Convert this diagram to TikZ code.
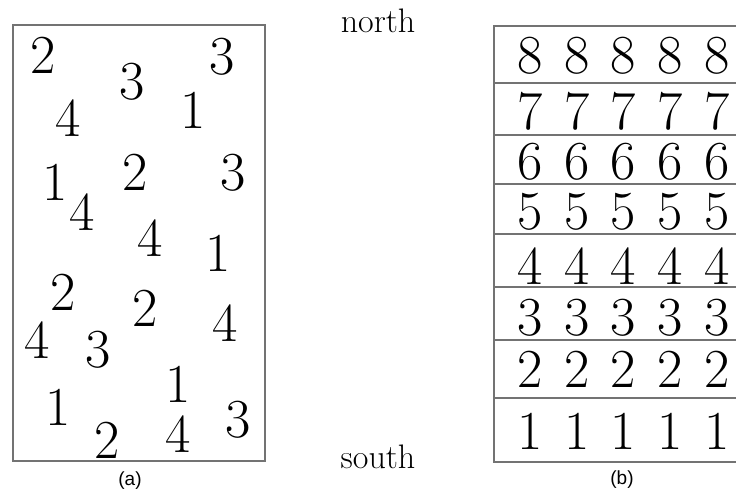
\documentclass[tikz,border=0pt]{standalone}
\usepackage{fontspec}
\newfontfamily\capfont{Liberation Sans}
\usetikzlibrary{positioning}

\tikzset{
  frame/.style={draw=black!55, line width=1.6pt},
  digit/.style={inner sep=0pt, font=\fontsize{55}{60}\selectfont},
  side/.style={inner sep=0pt, font=\fontsize{34}{38}\selectfont},
  caption/.style={inner sep=0pt, font=\capfont\fontsize{19}{22}\selectfont}
}

\begin{document}
\begin{tikzpicture}[x=1pt, y=-1pt]
    % 画布大小（像素坐标，y 向下）
    \useasboundingbox (0,0) rectangle (736,493);

    % --- 图 (a)：杂乱排列 ---
    \draw[frame] (13,25) rectangle (265,461);
    \foreach \x/\y/\d [count=\i] in {43/55/2, 132/82/3, 222/57/3, 68/118/4, 193/110/1,
        55/182/1, 135/172/2, 233/173/3, 82/212/4, 150/238/4, 218/253/1,
        63/292/2, 145/308/2, 225/323/4, 37/340/4, 98/350/3,
        58/407/1, 178/384/1, 107/440/2, 178/434/4, 238/420/3}{
      \node[digit] (a\i) at (\x,\y) {\d};
    }
    \node[caption] (capa) at (130,481) {(a)};

    % --- 中间：方位 ---
    \node[side] (north) at (378,21) {north};
    \node[side] (south) at (378,457) {south};

    % --- 图 (b)：分层排列 ---
    \draw[frame] (736,26) -- (494,26) -- (494,462) -- (736,462);
    \foreach \y in {83,135,184,234,287,340,398}{
      \draw[frame] (494,\y) -- (736,\y);
    }
    \foreach \d/\y in {8/56, 7/111, 6/162, 5/212, 4/266, 3/318, 2/369, 1/431}{
      \foreach \x [count=\j] in {530,577,623,670,717}{
        \node[digit] (b\d\j) at (\x,\y) {\d};
      }
    }
    \node[caption] (capb) at (622,480) {(b)};
\end{tikzpicture}
\end{document}
